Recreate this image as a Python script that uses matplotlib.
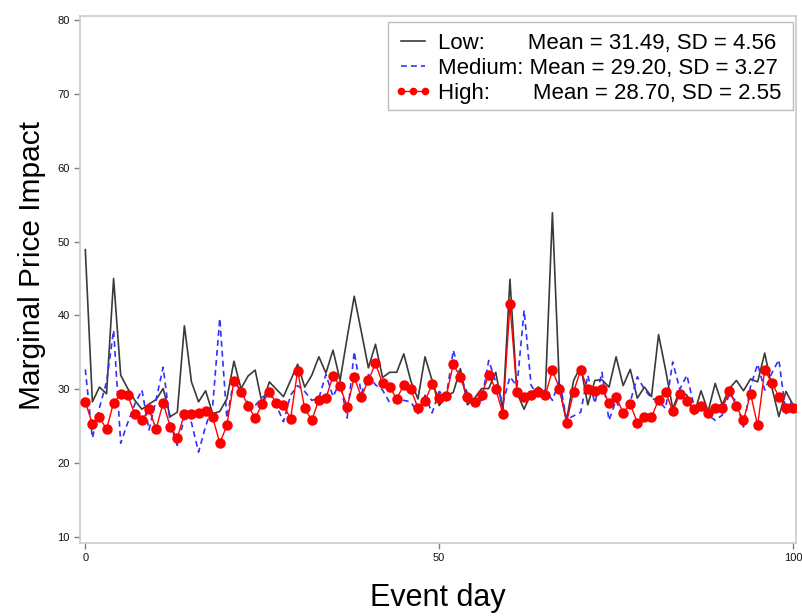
import matplotlib
matplotlib.use("Agg")
import matplotlib.pyplot as plt
from matplotlib.lines import Line2D
from matplotlib.patches import Rectangle
import numpy as np

days = list(range(0, 101))

low = [48.9, 28.3, 30.3, 29.4, 45.0, 31.9, 30.1, 28.5, 27.3, 28.0,
       28.6, 30.1, 26.3, 26.9, 38.6, 31.0, 28.3, 29.8, 26.7, 27.0,
       28.7, 33.8, 30.1, 31.8, 32.6, 28.0, 31.0, 30.0, 29.0, 31.2,
       33.4, 30.3, 31.9, 34.4, 32.2, 35.3, 31.2, 37.0, 42.6, 37.8,
       32.9, 36.1, 31.6, 32.3, 32.3, 34.8, 31.1, 28.7, 34.4, 31.2,
       27.8, 29.0, 29.6, 32.8, 27.9, 28.8, 30.1, 30.1, 32.3, 27.1,
       44.9, 29.5, 27.3, 29.5, 30.3, 29.5, 53.9, 30.1, 25.8, 31.2,
       33.1, 27.9, 31.2, 31.3, 30.3, 34.4, 30.5, 32.7, 28.8, 30.3,
       29.0, 37.4, 32.6, 27.4, 29.8, 29.2, 26.6, 29.8, 27.0, 30.8,
       27.9, 30.1, 31.2, 29.8, 31.4, 31.0, 34.9, 30.3, 26.3, 29.7,
       27.9]

medium = [32.7, 23.4, 27.5, 31.0, 38.0, 22.7, 25.5, 28.0, 29.9, 24.5,
          28.6, 33.0, 25.4, 22.4, 26.1, 25.5, 21.5, 25.0, 27.8, 39.6,
          26.1, 31.2, 29.8, 28.2, 27.8, 28.9, 29.6, 27.8, 25.6, 29.2,
          30.5, 29.7, 28.5, 28.8, 32.0, 29.0, 31.0, 26.1, 35.1, 29.4,
          32.0, 30.6, 29.9, 28.2, 28.5, 28.5, 28.3, 26.7, 29.2, 26.8,
          29.7, 29.0, 35.3, 31.7, 29.5, 28.1, 28.5, 33.9, 31.0, 28.1,
          31.7, 30.4, 40.7, 30.5, 29.2, 29.9, 28.5, 31.2, 25.9, 26.4,
          26.9, 31.9, 28.1, 32.3, 25.8, 28.5, 26.1, 28.3, 31.7, 30.0,
          28.8, 28.4, 27.4, 33.7, 30.0, 31.9, 27.8, 27.6, 26.5, 25.8,
          26.5, 29.4, 28.3, 24.9, 30.4, 33.4, 29.9, 32.2, 34.0, 26.7,
          28.8]

high = [28.3, 25.3, 26.2, 24.6, 28.2, 29.3, 29.2, 26.6, 25.8, 27.3,
        24.6, 28.2, 24.9, 23.4, 26.7, 26.7, 26.8, 27.1, 26.2, 22.7,
        25.1, 31.1, 29.7, 27.8, 26.1, 28.0, 29.7, 28.1, 27.9, 26.0,
        32.5, 27.4, 25.8, 28.6, 28.8, 31.8, 30.4, 27.6, 31.6, 29.0,
        31.2, 33.5, 30.8, 30.3, 28.7, 30.6, 30.0, 27.5, 28.4, 30.7,
        28.8, 29.1, 33.4, 31.6, 28.9, 28.3, 29.2, 32.0, 30.0, 26.7,
        41.5, 29.6, 28.9, 29.2, 29.7, 29.2, 32.6, 30.1, 25.5, 29.7,
        32.6, 30.0, 29.8, 30.1, 28.2, 29.0, 26.8, 28.0, 25.5, 26.2,
        26.2, 28.6, 29.7, 27.0, 29.4, 28.4, 27.3, 27.8, 26.8, 27.4,
        27.4, 29.8, 27.7, 25.8, 29.4, 25.1, 32.6, 30.9, 29.0, 27.5,
        27.4]

labels = ["Low:       Mean = 31.49, SD = 4.56",
          "Medium: Mean = 29.20, SD = 3.27",
          "High:       Mean = 28.70, SD = 2.55"]

yticks = [10, 20, 30, 40, 50, 60, 70, 80]
xticks = [0, 50, 100]

plt.rcParams['font.family'] = ['Liberation Sans', 'DejaVu Sans']

W, H = 803, 616
fig = plt.figure(figsize=(W / 100, H / 100), dpi=100)
ax = fig.add_axes([80 / W, 1 - 543 / H, (796 - 80) / W, (543 - 16) / H])

ax.plot(days, low, color='#3a3a3a', lw=1.2, zorder=2)
ax.plot(days, medium, color='#3030ff', lw=1.2, ls=(0, (3.5, 2.5)), zorder=3)
ax.plot(days, high, color='#ff0000', lw=1.0, marker='o', markersize=6.5,
        markerfacecolor='#ff0000', markeredgecolor='#ff0000', zorder=4)

ax.set_xlim(-0.75, 100.42)
ax.set_ylim(9.19, 80.54)
ax.set_xticks(xticks)
ax.set_yticks(yticks)

for s in ax.spines.values():
    s.set_color('#c8ccd0')
    s.set_linewidth(1.2)
ax.tick_params(axis='both', colors='#808080', length=4, width=1,
               labelcolor='#111111', labelsize=8)
for lab in ax.get_xticklabels() + ax.get_yticklabels():
    lab.set_family(['Liberation Sans Narrow', 'Liberation Sans', 'DejaVu Sans'])

ax.set_xlabel('Event day', fontsize=22, labelpad=14)
ax.set_ylabel('Marginal Price Impact', fontsize=21.5, labelpad=8)
ax.yaxis.label.set_y(0.5275)

# legend frame
frame = Rectangle((388 / W, 1 - 110 / H), (793 - 388) / W, (110 - 22) / H,
                  transform=fig.transFigure, facecolor='white',
                  edgecolor='#bdbdbd', lw=1.0, zorder=8, clip_on=False)
ax.add_patch(frame)

handles = [
    Line2D([], [], color='#3a3a3a', lw=1.2),
    Line2D([], [], color='#3030ff', lw=1.2, ls=(0, (3.5, 2.5))),
    Line2D([], [], color='#ff0000', lw=1.0, marker='o', markersize=4.5),
]
leg = ax.legend(handles, labels, loc='upper left',
                bbox_to_anchor=(394 / W, 1 - 33 / H),
                bbox_transform=fig.transFigure,
                fontsize=16, handlelength=1.68, handletextpad=0.32,
                borderpad=0.0, labelspacing=0.18, borderaxespad=0,
                numpoints=3, frameon=False)
leg.set_zorder(10)

fig.savefig('out.png', dpi=100)
